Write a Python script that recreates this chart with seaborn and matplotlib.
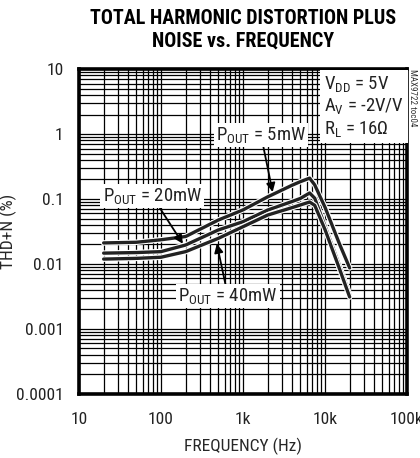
import pandas as pd
import seaborn as sns
import matplotlib.pyplot as plt
import matplotlib.ticker as mticker
import matplotlib.patheffects as pe
import numpy as np

# data (THD+N in %)
freq = [20, 50, 100, 200, 500, 1000, 2000, 4000, 5000, 6500, 7500, 10000, 15000, 20000]
thd_5mw = [0.0211, 0.0216, 0.0236, 0.0265, 0.0475, 0.068, 0.108, 0.164, 0.185, 0.21, 0.165, 0.075, 0.0205, 0.0087]
thd_20mw = [0.0147, 0.0150, 0.0155, 0.0196, 0.0334, 0.0448, 0.0677, 0.092, 0.102, 0.124, 0.103, 0.0385, 0.0095, 0.0034]
thd_40mw = [0.0119, 0.0122, 0.0127, 0.0155, 0.0248, 0.0375, 0.0567, 0.074, 0.081, 0.09, 0.08, 0.034, 0.0085, 0.0031]
series_names = ['5mW', '20mW', '40mW']

x_ticks = [10, 100, 1000, 10000, 100000]
x_tick_labels = ['10', '100', '1k', '10k', '100k']
y_ticks = [0.0001, 0.001, 0.01, 0.1, 1, 10]
y_tick_labels = ['0.0001', '0.001', '0.01', '0.1', '1', '10']

df = pd.DataFrame({
    'freq': freq * 3,
    'thd': thd_5mw + thd_20mw + thd_40mw,
    'pout': np.repeat(series_names, len(freq)),
})

sns.set_style('white')
cond = ['Roboto Condensed', 'DejaVu Sans']
plt.rcParams.update({
    'font.family': cond,
    'mathtext.fontset': 'custom',
    'mathtext.rm': 'Roboto Condensed',
    'mathtext.it': 'Roboto Condensed',
    'mathtext.bf': 'Roboto Condensed:bold',
    'text.color': '#222222',
})

fig = plt.figure(figsize=(4.2, 4.58), dpi=100)
ax = fig.add_axes([0.188, 0.14, 0.781, 0.709])

ax.set_xscale('log')
ax.set_yscale('log')
ax.set_xlim(10, 100000)
ax.set_ylim(0.0001, 10)

# log grid, majors and minors alike
ax.xaxis.set_minor_locator(mticker.LogLocator(base=10, subs=np.arange(2, 10)))
ax.yaxis.set_minor_locator(mticker.LogLocator(base=10, subs=np.arange(2, 10)))
ax.grid(which='both', color='black', linewidth=0.9)
ax.set_axisbelow(True)

sns.lineplot(data=df, x='freq', y='thd', hue='pout', palette=['#222222'] * 3,
             linewidth=2.4, legend=False, ax=ax, zorder=3,
             path_effects=[pe.Stroke(linewidth=4.0, foreground='white'), pe.Normal()])

ax.set_xticks(x_ticks)
ax.set_xticklabels(x_tick_labels)
ax.set_yticks(y_ticks)
ax.set_yticklabels(y_tick_labels)
ax.tick_params(which='both', length=0, labelsize=12.5, colors='#222222')
ax.tick_params(axis='x', pad=13)
ax.tick_params(axis='y', pad=11)
ax.set_xlabel('FREQUENCY (Hz)', size=12.5, labelpad=8)
ax.set_ylabel('THD+N (%)', size=12.5)
ax.yaxis.set_label_coords(-0.19, 0.5)
for s in ax.spines.values():
    s.set_visible(True)
    s.set_color('black')
    s.set_linewidth(2.6)

fig.text(0.578, 0.98, 'TOTAL HARMONIC DISTORTION PLUS\nNOISE vs. FREQUENCY',
         ha='center', va='top', size=14.5, weight='bold', linespacing=1.25, color='black')

ax.text(0.747, 0.985, 'V$_{DD}$ = 5V\nA$_{V}$ = -2V/V\nR$_{L}$ = 16$\\Omega$',
        transform=ax.transAxes, ha='left', va='top', size=13.5, linespacing=1.15,
        bbox=dict(facecolor='white', edgecolor='none', pad=3), zorder=5)

box = dict(facecolor='white', edgecolor='none', pad=1.5)
arrow = dict(arrowstyle='-|>', color='black', lw=1.3, mutation_scale=13, shrinkA=0, shrinkB=0)
ax.annotate('P$_{OUT}$ = 5mW', xy=(2300, 0.128), xytext=(1660, 0.96),
            ha='center', va='center', size=13.5, bbox=box, arrowprops=arrow, zorder=6)
ax.annotate('P$_{OUT}$ = 20mW', xy=(185, 0.0205), xytext=(78, 0.111),
            ha='center', va='center', size=13.5, bbox=box, arrowprops=arrow, zorder=6)
ax.annotate('P$_{OUT}$ = 40mW', xy=(480, 0.0205), xytext=(656, 0.0032),
            ha='center', va='center', size=13.5, bbox=box, arrowprops=arrow, zorder=6)

fig.text(0.983, 0.85, 'MAX9722 toc04', rotation=270, ha='center', va='top',
         size=6.5, color='#333333')

plt.savefig('out.png', dpi=100)
